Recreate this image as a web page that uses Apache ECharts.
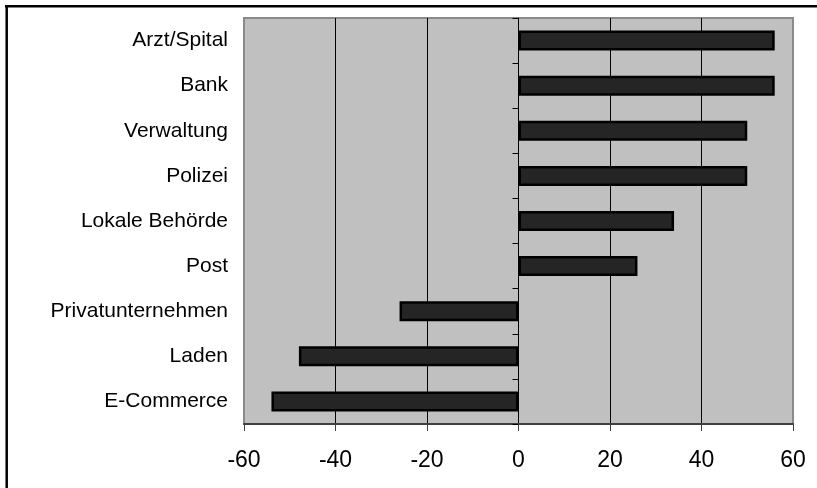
<!DOCTYPE html>
<html>
<head>
<meta charset="utf-8">
<script src="https://cdn.jsdelivr.net/npm/echarts@6/dist/echarts.min.js"></script>
<style>
  html, body { margin: 0; padding: 0; background: #fff; }
  #chart { width: 817px; height: 488px; }
</style>
</head>
<body>
<div id="chart"></div>
<script>
// Categories, top to bottom
const categories = [
  'Arzt/Spital', 'Bank', 'Verwaltung', 'Polizei', 'Lokale Behörde',
  'Post', 'Privatunternehmen', 'Laden', 'E-Commerce'
];
// Net values per category
const values = [56, 56, 50, 50, 34, 26, -26, -48, -54];
// Value axis ticks
const xTicks = [-60, -40, -20, 0, 20, 40, 60];

const FONT = '"Liberation Sans", Arial, sans-serif';

const chart = echarts.init(document.getElementById('chart'), null, { renderer: 'canvas' });

chart.setOption({
  animation: false,
  backgroundColor: '#ffffff',
  grid: {
    left: 244, right: 24, top: 18, bottom: 64,
    show: true,
    backgroundColor: '#c0c0c0',
    borderColor: '#8a8a8a',
    borderWidth: 2
  },
  xAxis: {
    type: 'value',
    min: xTicks[0],
    max: xTicks[xTicks.length - 1],
    interval: 20,
    axisLine: { show: true, onZero: false, lineStyle: { color: '#404040', width: 2 } },
    axisTick: { show: true, length: 7, lineStyle: { color: '#404040', width: 1 } },
    axisLabel: { color: '#000', fontFamily: FONT, fontSize: 23, margin: 25 },
    splitLine: {
      show: true, showMinLine: false, showMaxLine: false,
      lineStyle: { color: '#000', width: 1 }
    }
  },
  yAxis: [
    {
      // category labels at the left edge of the plot
      type: 'category',
      data: categories,
      inverse: true,
      position: 'left',
      axisLine: { show: false, onZero: false },
      axisTick: { show: false },
      axisLabel: { color: '#000', fontFamily: FONT, fontSize: 21, margin: 16 }
    },
    {
      // axis line with boundary ticks running through zero
      type: 'category',
      data: categories,
      inverse: true,
      position: 'left',
      axisLine: { show: true, onZero: true, lineStyle: { color: '#000', width: 1 } },
      axisTick: { show: true, length: 6, lineStyle: { color: '#000', width: 1 } },
      axisLabel: { show: false },
      splitLine: { show: false }
    }
  ],
  series: [{
    type: 'bar',
    data: values,
    yAxisIndex: 0,
    barWidth: 20,
    itemStyle: { color: '#252525', borderColor: '#000', borderWidth: 2.5 },
    z: 3
  }],
  graphic: [
    { type: 'line', shape: { x1: 5, y1: 6.2, x2: 817, y2: 6.2 }, style: { stroke: '#000', lineWidth: 2.5 }, silent: true },
    { type: 'line', shape: { x1: 6.7, y1: 5, x2: 6.7, y2: 488 }, style: { stroke: '#000', lineWidth: 2.5 }, silent: true }
  ]
});
</script>
</body>
</html>
